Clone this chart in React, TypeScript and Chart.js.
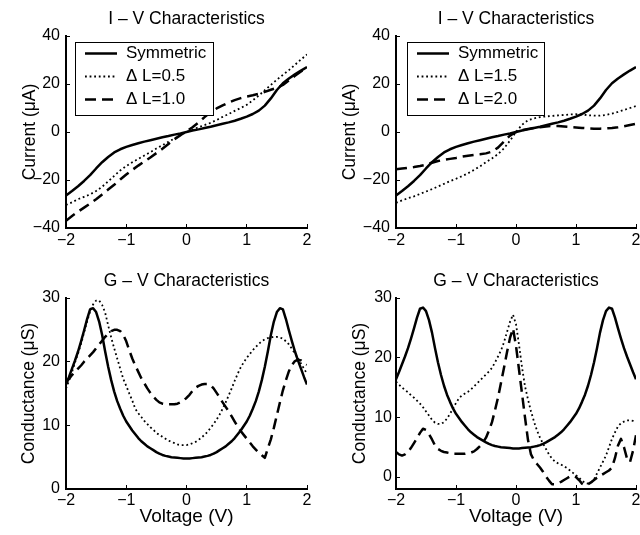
import React, { useEffect, useRef } from 'react';
import { Chart, registerables } from 'chart.js';

Chart.register(...registerables);

const FONT = '"Liberation Sans", Arial, Helvetica, sans-serif';

// ---------- data ----------
const V_I = [-2.0, -1.9, -1.8, -1.7, -1.6, -1.5, -1.4, -1.3, -1.2, -1.1, -1.0, -0.9, -0.8, -0.7, -0.6, -0.5, -0.4, -0.3, -0.2, -0.1, 0,
  0.1, 0.2, 0.3, 0.4, 0.5, 0.6, 0.7, 0.8, 0.9, 1.0, 1.1, 1.2, 1.3, 1.4, 1.5, 1.6, 1.7, 1.8, 1.9, 2.0];

const I_SYM = [-26.5, -24.6, -22.6, -20.4, -18.0, -15.2, -12.6, -10.4, -8.5, -7.2, -6.2, -5.4, -4.7, -4.0, -3.4, -2.8, -2.2, -1.7, -1.1, -0.6, 0,
  0.6, 1.1, 1.7, 2.2, 2.8, 3.4, 4.0, 4.7, 5.5, 6.4, 7.5, 8.9, 11.0, 14.0, 17.5, 20.3, 22.3, 24.0, 25.6, 27.1];
const I_DL05 = [-30.4, -29.3, -28.0, -27.0, -26.0, -24.6, -22.8, -20.6, -18.3, -16.0, -14.2, -12.6, -11.2, -9.8, -8.4, -6.9, -5.5, -4.1, -2.7, -1.3, 0,
  1.0, 2.0, 2.9, 3.8, 5.0, 6.3, 7.5, 8.8, 10.0, 11.3, 13.2, 15.2, 17.4, 19.6, 21.8, 23.8, 25.8, 28.0, 30.2, 32.3];
const I_DL10 = [-37.0, -35.0, -33.2, -31.5, -29.8, -28.0, -26.0, -24.0, -22.0, -19.8, -17.7, -15.8, -14.0, -12.3, -10.6, -8.8, -7.0, -5.0, -3.0, -1.3, 0.3,
  2.0, 4.0, 6.2, 8.2, 9.8, 11.1, 12.3, 13.3, 14.1, 14.8, 15.3, 15.9, 16.7, 17.6, 18.4, 19.6, 21.5, 23.4, 25.2, 26.8];
const I_DL15 = [-29.5, -28.5, -27.6, -26.8, -25.8, -24.8, -23.8, -22.7, -21.6, -20.5, -19.5, -18.4, -17.2, -15.8, -14.3, -12.6, -11.0, -9.2, -6.8, -3.6, 0,
  3.0, 4.9, 5.7, 6.2, 6.5, 6.7, 6.9, 7.1, 7.3, 7.4, 7.3, 7.0, 6.8, 6.8, 7.1, 7.7, 8.4, 9.2, 10.0, 10.8];
const I_DL20 = [-15.5, -15.2, -14.9, -14.6, -14.2, -13.6, -12.8, -12.1, -11.6, -11.2, -10.8, -10.3, -9.9, -9.6, -9.3, -8.9, -8.2, -6.5, -4.0, -1.5, 0,
  0.8, 1.3, 1.7, 2.0, 2.3, 2.5, 2.5, 2.3, 2.1, 1.9, 1.7, 1.5, 1.4, 1.4, 1.5, 1.7, 2.0, 2.4, 2.9, 3.4];

const V_G = [-2.0, -1.95, -1.9, -1.85, -1.8, -1.75, -1.7, -1.65, -1.6, -1.55,
  -1.5, -1.45, -1.4, -1.35, -1.3, -1.25, -1.2, -1.15, -1.1, -1.05,
  -1.0, -0.95, -0.9, -0.85, -0.8, -0.75, -0.7, -0.65, -0.6, -0.55,
  -0.5, -0.45, -0.4, -0.35, -0.3, -0.25, -0.2, -0.15, -0.1, -0.05,
  0,
  0.05, 0.1, 0.15, 0.2, 0.25, 0.3, 0.35, 0.4, 0.45, 0.5,
  0.55, 0.6, 0.65, 0.7, 0.75, 0.8, 0.85, 0.9, 0.95, 1.0,
  1.05, 1.1, 1.15, 1.2, 1.25, 1.3, 1.35, 1.4, 1.45, 1.5,
  1.55, 1.6, 1.65, 1.7, 1.75, 1.8, 1.85, 1.9, 1.95, 2.0];

const G_SYM = [16.4, 17.6, 18.9, 20.2, 21.6, 23.2, 24.9, 26.7, 28.2, 28.4,
  27.8, 26.3, 24.2, 21.6, 19.2, 17.1, 15.3, 13.8, 12.6, 11.5,
  10.6, 9.9, 9.2, 8.6, 8.0, 7.5, 7.1, 6.7, 6.4, 6.1,
  5.8, 5.55, 5.35, 5.2, 5.1, 5.0, 4.95, 4.9, 4.85, 4.8,
  4.8,
  4.8, 4.85, 4.9, 4.95, 5.0, 5.1, 5.2, 5.35, 5.55, 5.8,
  6.1, 6.4, 6.7, 7.1, 7.5, 8.0, 8.6, 9.2, 9.9, 10.6,
  11.5, 12.6, 13.8, 15.3, 17.1, 19.2, 21.6, 24.2, 26.3, 27.8,
  28.4, 28.2, 26.7, 24.9, 23.2, 21.6, 20.2, 18.9, 17.6, 16.4];
const G_DL05 = [15.8, 17.0, 18.4, 19.9, 21.3, 22.8, 24.6, 26.3, 27.9, 29.0,
  29.6, 29.6, 28.9, 27.7, 25.7, 23.8, 22.1, 20.5, 18.9, 17.3,
  16.2, 15.0, 13.9, 12.6, 11.9, 11.3, 10.7, 10.2, 9.7, 9.3,
  8.8, 8.5, 8.2, 7.9, 7.6, 7.4, 7.2, 7.0, 6.9, 6.9,
  6.9,
  7.0, 7.2, 7.4, 7.7, 8.1, 8.5, 9.0, 9.6, 10.2, 10.9,
  11.7, 12.6, 13.6, 14.7, 15.8, 17.0, 18.1, 19.1, 19.9, 20.6,
  21.2, 21.8, 22.3, 22.8, 23.2, 23.5, 23.7, 23.8, 23.9, 23.9,
  23.8, 23.6, 23.2, 22.7, 22.0, 21.3, 20.5, 19.7, 18.9, 18.1];
const G_DL10 = [16.8, 17.3, 17.9, 18.4, 18.9, 19.4, 20.0, 20.5, 21.0, 21.5,
  22.1, 22.7, 23.3, 23.9, 24.4, 24.8, 25.0, 25.0, 24.8, 24.2,
  23.2, 21.8, 20.5, 19.4, 18.4, 17.4, 16.6, 15.8, 15.1, 14.5,
  14.0, 13.6, 13.4, 13.3, 13.3, 13.3, 13.3, 13.4, 13.6, 13.9,
  14.3,
  14.8, 15.4, 15.9, 16.2, 16.4, 16.5, 16.5, 16.3, 15.8, 15.1,
  14.4, 13.6, 12.9, 12.2, 11.4, 10.6, 9.8, 9.1, 8.5, 7.9,
  7.3, 6.7, 6.2, 5.7, 5.3, 4.9, 6.4, 7.8, 9.6, 11.6,
  13.6, 15.5, 17.1, 18.5, 19.5, 20.1, 20.3, 20.2, 19.9, 19.5];
const G_DL15 = [16.0, 15.5, 15.0, 14.6, 14.2, 13.7, 13.3, 12.8, 12.3, 11.7,
  11.0, 10.3, 9.6, 9.1, 8.9, 8.9, 9.2, 9.8, 10.6, 11.5,
  12.4, 13.2, 13.7, 14.0, 14.3, 14.7, 15.2, 15.7, 16.2, 16.7,
  17.2, 17.7, 18.3, 19.2, 20.2, 21.2, 22.6, 24.3, 26.0, 27.2,
  25.6,
  22.2, 18.4, 15.2, 13.0, 11.0, 9.3, 7.8, 6.6, 5.6, 4.7,
  3.8, 3.1, 2.6, 2.3, 2.1, 1.8, 1.5, 1.1, 0.7, 0.3,
  -0.1, -0.6, -1.0, -1.1, -0.9, -0.4, 0.6, 1.6, 2.6, 3.6,
  5.0, 6.4, 7.5, 8.5, 9.0, 9.3, 9.5, 9.5, 9.4, 9.2];
const G_DL20 = [4.2, 3.8, 3.6, 3.8, 4.2, 4.9, 5.7, 6.5, 7.4, 8.1,
  7.9, 7.2, 6.3, 5.3, 4.7, 4.4, 4.2, 4.1, 4.0, 3.9,
  3.9, 3.9, 3.9, 3.9, 4.0, 4.1, 4.3, 4.7, 5.2, 5.8,
  6.6, 7.8, 9.2, 11.2, 13.3, 15.8, 18.3, 20.9, 23.3, 24.9,
  22.0,
  18.0, 14.0, 10.0, 6.2, 3.8, 2.8, 2.2, 1.6, 0.9, 0.1,
  -0.6, -1.2, -1.2, -1.0, -0.8, -0.5, -0.2, 0.1, 0.2, 0.0,
  -0.5, -1.1, -1.4, -1.2, -0.9, -0.5, -0.1, 0.2, 0.5, 0.8,
  1.1, 1.6, 3.2, 5.3, 6.4, 5.0, 3.1, 2.5, 4.4, 7.0];

const X_TICKS = [-2, -1, 0, 1, 2];
const I_TICKS = [-40, -20, 0, 20, 40];
const G_TICKS = [0, 10, 20, 30];
const LABELS_LEFT = ['Symmetric', 'Δ L=0.5', 'Δ L=1.0'];
const LABELS_RIGHT = ['Symmetric', 'Δ L=1.5', 'Δ L=2.0'];

// ---------- styles ----------
const LINE_STYLES = [
  { width: 2.5, dash: [] as number[] },
  { width: 1.8, dash: [1.8, 2.8] },
  { width: 2.5, dash: [11, 6] },
];

const PANELS: any[] = [
  {
    left: 0, top: 0, w: 320, h: 265, area: { l: 66, r: 307, t: 36, b: 228 },
    title: 'I – V Characteristics', titleCenter: 19,
    yTitle: 'Current (μA)', yTitleCenter: 30, yGap: 6, xTitle: null,
    yMin: -40, yMax: 40, yTicks: I_TICKS, xs: V_I,
    series: [I_SYM, I_DL05, I_DL10], labels: LABELS_LEFT,
    legend: { dx: 9, dy: 6, w: 138, h: 73, lineX: 10, lineLen: 32, textX: 51, firstRow: 11, rowGap: 23 },
  },
  {
    left: 320, top: 0, w: 340, h: 265, area: { l: 76, r: 316, t: 36, b: 228 },
    title: 'I – V Characteristics', titleCenter: 19,
    yTitle: 'Current (μA)', yTitleCenter: 30, yGap: 6, xTitle: null,
    yMin: -40, yMax: 40, yTicks: I_TICKS, xs: V_I,
    series: [I_SYM, I_DL15, I_DL20], labels: LABELS_RIGHT,
    legend: { dx: 11, dy: 6, w: 137, h: 73, lineX: 10, lineLen: 32, textX: 51, firstRow: 11, rowGap: 23 },
  },
  {
    left: 0, top: 265, w: 320, h: 270, area: { l: 66, r: 307, t: 33, b: 224 },
    title: 'G – V Characteristics', titleCenter: 16,
    yTitle: 'Conductance (μS)', yTitleCenter: 29, yGap: 6, xTitle: 'Voltage (V)', xTitleCenter: 252,
    yMin: 0, yMax: 30, yTicks: G_TICKS, xs: V_G,
    series: [G_SYM, G_DL05, G_DL10], labels: LABELS_LEFT, legend: null,
  },
  {
    left: 320, top: 265, w: 340, h: 270, area: { l: 76, r: 316, t: 33, b: 224 },
    title: 'G – V Characteristics', titleCenter: 16,
    yTitle: 'Conductance (μS)', yTitleCenter: 40, yGap: 4, xTitle: 'Voltage (V)', xTitleCenter: 252,
    yMin: -2, yMax: 30, yTicks: G_TICKS, xs: V_G,
    series: [G_SYM, G_DL15, G_DL20], labels: LABELS_RIGHT, legend: null,
  },
];

const TICK_LEN = -4;
const TICK_FONT = 16;
const TITLE_FONT = 17.5;
const LEGEND_FONT = 17;
const YTITLE_FONT = 17.5;
const XTITLE_FONT = 19;

const fmt = (v: number) => String(v).replace('-', '\u2212');

const boxLegendPlugin = {
  id: 'boxLegend',
  afterDatasetsDraw(chart: any, _args: any, opts: any) {
    if (!opts || !opts.show) return;
    const { ctx, chartArea } = chart;
    const x0 = Math.round(chartArea.left + opts.dx);
    const y0 = Math.round(chartArea.top + opts.dy);
    ctx.save();
    ctx.fillStyle = '#ffffff';
    ctx.fillRect(x0, y0, opts.w, opts.h);
    ctx.setLineDash([]);
    ctx.lineWidth = 1;
    ctx.strokeStyle = '#000000';
    ctx.strokeRect(x0 + 0.5, y0 + 0.5, opts.w, opts.h);
    chart.data.datasets.forEach((ds: any, i: number) => {
      const y = Math.round(y0 + opts.firstRow + i * opts.rowGap) + 0.5;
      ctx.beginPath();
      ctx.lineWidth = ds.borderWidth;
      ctx.lineCap = 'butt';
      ctx.setLineDash(ds.borderDash || []);
      ctx.strokeStyle = '#000000';
      ctx.moveTo(x0 + opts.lineX, y);
      ctx.lineTo(x0 + opts.lineX + opts.lineLen, y);
      ctx.stroke();
      ctx.setLineDash([]);
      ctx.fillStyle = '#000000';
      ctx.font = `${LEGEND_FONT}px ${FONT}`;
      ctx.textAlign = 'left';
      ctx.textBaseline = 'middle';
      ctx.fillText(ds.label, x0 + opts.textX, y);
    });
    ctx.restore();
  },
};

function buildConfig(p: any): any {
  const datasets = p.series.map((ys: number[], k: number) => ({
    label: p.labels[k],
    data: p.xs.map((x: number, i: number) => ({ x, y: ys[i] })),
    borderColor: '#000000',
    backgroundColor: '#000000',
    borderWidth: LINE_STYLES[k].width,
    borderDash: LINE_STYLES[k].dash,
    borderCapStyle: 'butt',
    borderJoinStyle: 'round',
    pointRadius: 0,
    pointHoverRadius: 0,
    fill: false,
    tension: 0,
  }));

  const titleLH = TITLE_FONT * 1.2;
  const titleTop = p.titleCenter - titleLH / 2;
  const titleBottom = p.area.t - titleTop - titleLH;
  const yTitleLH = YTITLE_FONT * 1.2;
  const xTitleLH = XTITLE_FONT * 1.2;
  const tickLH = TICK_FONT * 1.2;
  const xLabelCenterGap = p.xTitle ? 12 : 13;

  return {
    type: 'line',
    data: { datasets },
    options: {
      responsive: false,
      maintainAspectRatio: false,
      animation: false,
      devicePixelRatio: 1,
      events: [],
      layout: { padding: { left: 0, top: 0, right: p.w - p.area.r, bottom: 0 } },
      plugins: {
        legend: { display: false },
        tooltip: { enabled: false },
        title: {
          display: true,
          text: p.title,
          fullSize: false,
          color: '#000000',
          font: { family: FONT, size: TITLE_FONT, weight: 'normal', lineHeight: 1.2 },
          padding: { top: titleTop, bottom: titleBottom },
        },
        boxLegend: p.legend ? { show: true, ...p.legend } : { show: false },
      },
      scales: {
        x: {
          type: 'linear',
          position: 'bottom',
          min: -2,
          max: 2,
          afterBuildTicks: (s: any) => { s.ticks = X_TICKS.map((v) => ({ value: v })); },
          afterFit: (s: any) => { s.height = p.h - p.area.b; },
          ticks: {
            color: '#000000',
            font: { family: FONT, size: TICK_FONT },
            padding: xLabelCenterGap - tickLH / 2 - TICK_LEN,
            maxRotation: 0,
            autoSkip: false,
            callback: (v: any) => fmt(v),
          },
          grid: {
            display: true,
            drawOnChartArea: false,
            drawTicks: true,
            tickLength: TICK_LEN,
            color: '#000000',
            lineWidth: 1,
          },
          border: { display: true, color: '#000000', width: 2 },
          title: p.xTitle
            ? {
                display: true,
                text: p.xTitle,
                color: '#000000',
                font: { family: FONT, size: XTITLE_FONT, lineHeight: 1.2 },
                padding: { top: 0, bottom: p.h - p.xTitleCenter - xTitleLH / 2 },
              }
            : { display: false },
        },
        y: {
          type: 'linear',
          position: 'left',
          min: p.yMin,
          max: p.yMax,
          afterBuildTicks: (s: any) => { s.ticks = p.yTicks.map((v: number) => ({ value: v })); },
          afterFit: (s: any) => { s.width = p.area.l; },
          ticks: {
            color: '#000000',
            font: { family: FONT, size: TICK_FONT },
            padding: p.yGap - TICK_LEN,
            autoSkip: false,
            callback: (v: any) => fmt(v),
          },
          grid: {
            display: true,
            drawOnChartArea: false,
            drawTicks: true,
            tickLength: TICK_LEN,
            color: '#000000',
            lineWidth: 1,
          },
          border: { display: true, color: '#000000', width: 2 },
          title: {
            display: true,
            text: p.yTitle,
            color: '#000000',
            font: { family: FONT, size: YTITLE_FONT, lineHeight: 1.2 },
            padding: { top: p.yTitleCenter - yTitleLH / 2, bottom: 0 },
          },
        },
      },
    },
    plugins: [boxLegendPlugin],
  };
}

function PanelChart({ p }: { p: any }) {
  const ref = useRef<HTMLCanvasElement | null>(null);
  useEffect(() => {
    if (!ref.current) return;
    const chart = new Chart(ref.current, buildConfig(p));
    return () => chart.destroy();
  }, [p]);
  return (
    <canvas
      ref={ref}
      width={p.w}
      height={p.h}
      style={{ position: 'absolute', left: p.left, top: p.top, width: p.w, height: p.h, display: 'block' }}
    />
  );
}

export default function App() {
  return (
    <div
      style={{
        position: 'absolute',
        left: 0,
        top: 0,
        width: 640,
        height: 535,
        overflow: 'hidden',
        background: '#ffffff',
      }}
    >
      {PANELS.map((p, i) => (
        <PanelChart key={i} p={p} />
      ))}
    </div>
  );
}
